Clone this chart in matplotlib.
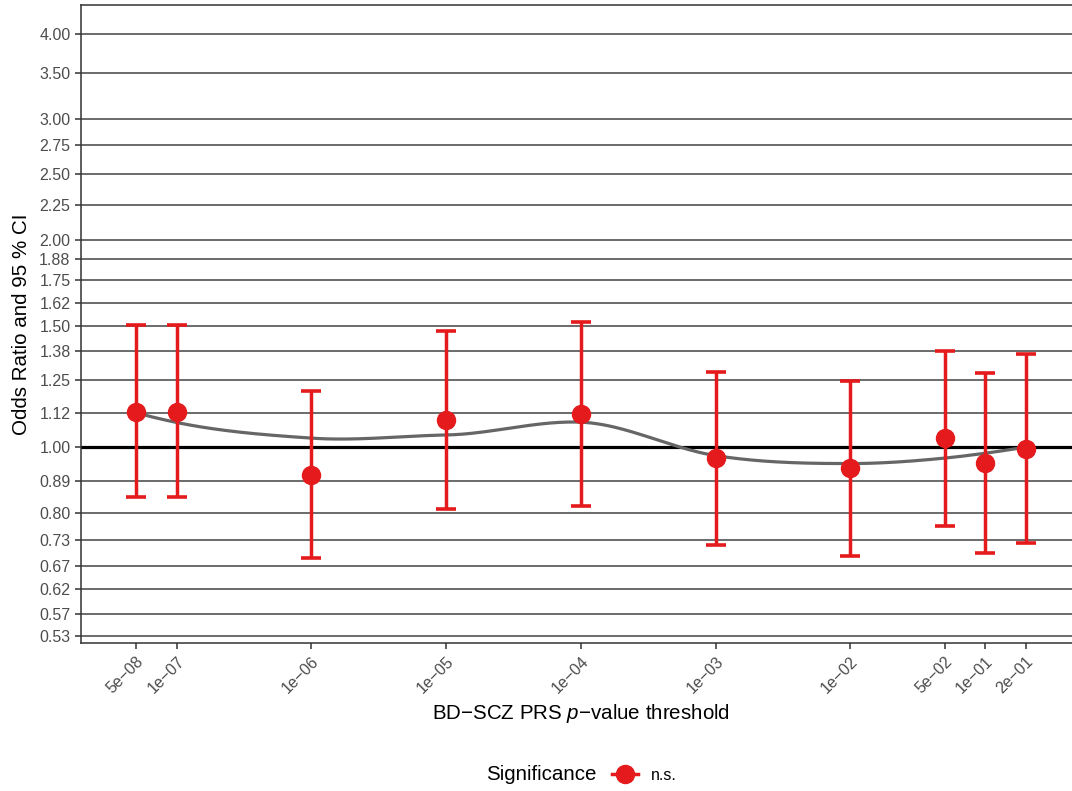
import numpy as np
import matplotlib.pyplot as plt
from matplotlib.lines import Line2D

plt.rcParams['font.family'] = ['Liberation Sans', 'DejaVu Sans']
plt.rcParams['mathtext.fontset'] = 'custom'
plt.rcParams['mathtext.rm'] = 'Liberation Sans'
plt.rcParams['mathtext.it'] = 'Liberation Sans:italic'

# PRS p-value thresholds and odds ratios with 95% CI
thresholds = [5e-08, 1e-07, 1e-06, 1e-05, 1e-04, 1e-03, 1e-02, 5e-02, 1e-01, 2e-01]
threshold_labels = ['5e−08', '1e−07', '1e−06', '1e−05', '1e−04',
                    '1e−03', '1e−02', '5e−02', '1e−01', '2e−01']
odds_ratio = [1.125, 1.125, 0.909, 1.094, 1.115, 0.962, 0.930, 1.029, 0.946, 0.991]
ci_low = [0.845, 0.845, 0.688, 0.811, 0.819, 0.720, 0.694, 0.767, 0.699, 0.723]
ci_high = [1.505, 1.505, 1.206, 1.474, 1.521, 1.285, 1.247, 1.380, 1.279, 1.364]

y_ticks = [0.53, 0.57, 0.62, 0.67, 0.73, 0.80, 0.89, 1.00, 1.12, 1.25, 1.38,
           1.50, 1.62, 1.75, 1.88, 2.00, 2.25, 2.50, 2.75, 3.00, 3.50, 4.00]

RED = '#E41A1C'


def local_fit(x, y, x0, span=0.75):
    # local quadratic with tricube weights; returns value and slope at x0
    q = int(np.floor(len(x) * span))
    d = np.abs(x - x0)
    h = np.sort(d)[q - 1]
    w = np.clip(1 - (d / h) ** 3, 0, None) ** 3
    c = np.polyfit(x - x0, y, 2, w=np.sqrt(w))
    return c[2], c[1]


def loess(x, y, xs, span=0.75):
    # fit at the kd-tree vertices (data points + box ends), Hermite in between
    xsrt = np.sort(x)
    t = 0.005 * (xsrt[-1] - xsrt[0])
    verts = np.concatenate([[xsrt[0] - t], xsrt, [xsrt[-1] + t]])
    vals = np.array([local_fit(x, y, v, span) for v in verts])
    out = []
    for x0 in xs:
        i = int(np.clip(np.searchsorted(verts, x0) - 1, 0, len(verts) - 2))
        a, b = verts[i], verts[i + 1]
        hh = b - a
        s = (x0 - a) / hh
        h00 = 2 * s ** 3 - 3 * s ** 2 + 1
        h10 = s ** 3 - 2 * s ** 2 + s
        h01 = -2 * s ** 3 + 3 * s ** 2
        h11 = s ** 3 - s ** 2
        out.append(h00 * vals[i, 0] + h10 * hh * vals[i, 1]
                   + h01 * vals[i + 1, 0] + h11 * hh * vals[i + 1, 1])
    return np.array(out)


lx = np.log10(thresholds)
ly = np.log10(odds_ratio)
xs = np.linspace(lx.min(), lx.max(), 300)
smooth = 10 ** loess(lx, ly, xs)

fig = plt.figure(figsize=(10.72, 7.91), dpi=100)
ax = fig.add_axes([81 / 1072, 1 - 643 / 791, 1 - 81 / 1072, (643 - 5) / 791])

ax.set_xscale('log')
ax.set_yscale('log')
ax.set_xlim(10 ** -7.71, 10 ** -0.355)
ax.set_ylim(0.5174, 4.404)

for t in y_ticks:
    if t == 1.0:
        continue
    ax.axhline(t, color='#5f5f5f', lw=1.3, zorder=1)
ax.axhline(1.0, color='black', lw=2.3, zorder=2)

ax.plot(10 ** xs, smooth, color='#666666', lw=2.3, zorder=3)

err = [np.array(odds_ratio) - np.array(ci_low), np.array(ci_high) - np.array(odds_ratio)]
ax.errorbar(thresholds, odds_ratio, yerr=err, fmt='o', color=RED, ms=13,
            elinewidth=2.5, capsize=7.2, capthick=2.6, zorder=4)

ax.set_yticks(y_ticks)
ax.set_yticklabels(['%.2f' % t for t in y_ticks])
ax.yaxis.set_minor_locator(plt.NullLocator())
ax.set_xticks(thresholds)
ax.set_xticklabels(threshold_labels, rotation=45, ha='right', va='top',
                   rotation_mode='anchor')
ax.xaxis.set_minor_locator(plt.NullLocator())
ax.tick_params(axis='both', colors='#333333', labelcolor='#4d4d4d',
               labelsize=11.5, length=4, width=1.1)

for s in ['left', 'bottom', 'top']:
    ax.spines[s].set_color('#333333')
    ax.spines[s].set_linewidth(1.1)
ax.spines['right'].set_visible(False)

ax.set_xlabel('BD−SCZ PRS $\\it{p}$−value threshold', fontsize=14.8)
ax.xaxis.set_label_coords(0.5045, -0.092)
ax.set_ylabel('Odds Ratio and 95 % CI', fontsize=14.8, labelpad=6)

fig.text(486 / 1072, 1 - 775 / 791, 'Significance', fontsize=14.8,
         ha='left', va='center')
handle = Line2D([], [], color=RED, marker='o', ms=13, lw=2.5)
fig.legend([handle], ['n.s.'], loc='center left',
           bbox_to_anchor=(598 / 1072, 1 - 775 / 791), frameon=False,
           fontsize=11.5, handlelength=1.6, handletextpad=0.8)

fig.savefig('out.png', dpi=100)
